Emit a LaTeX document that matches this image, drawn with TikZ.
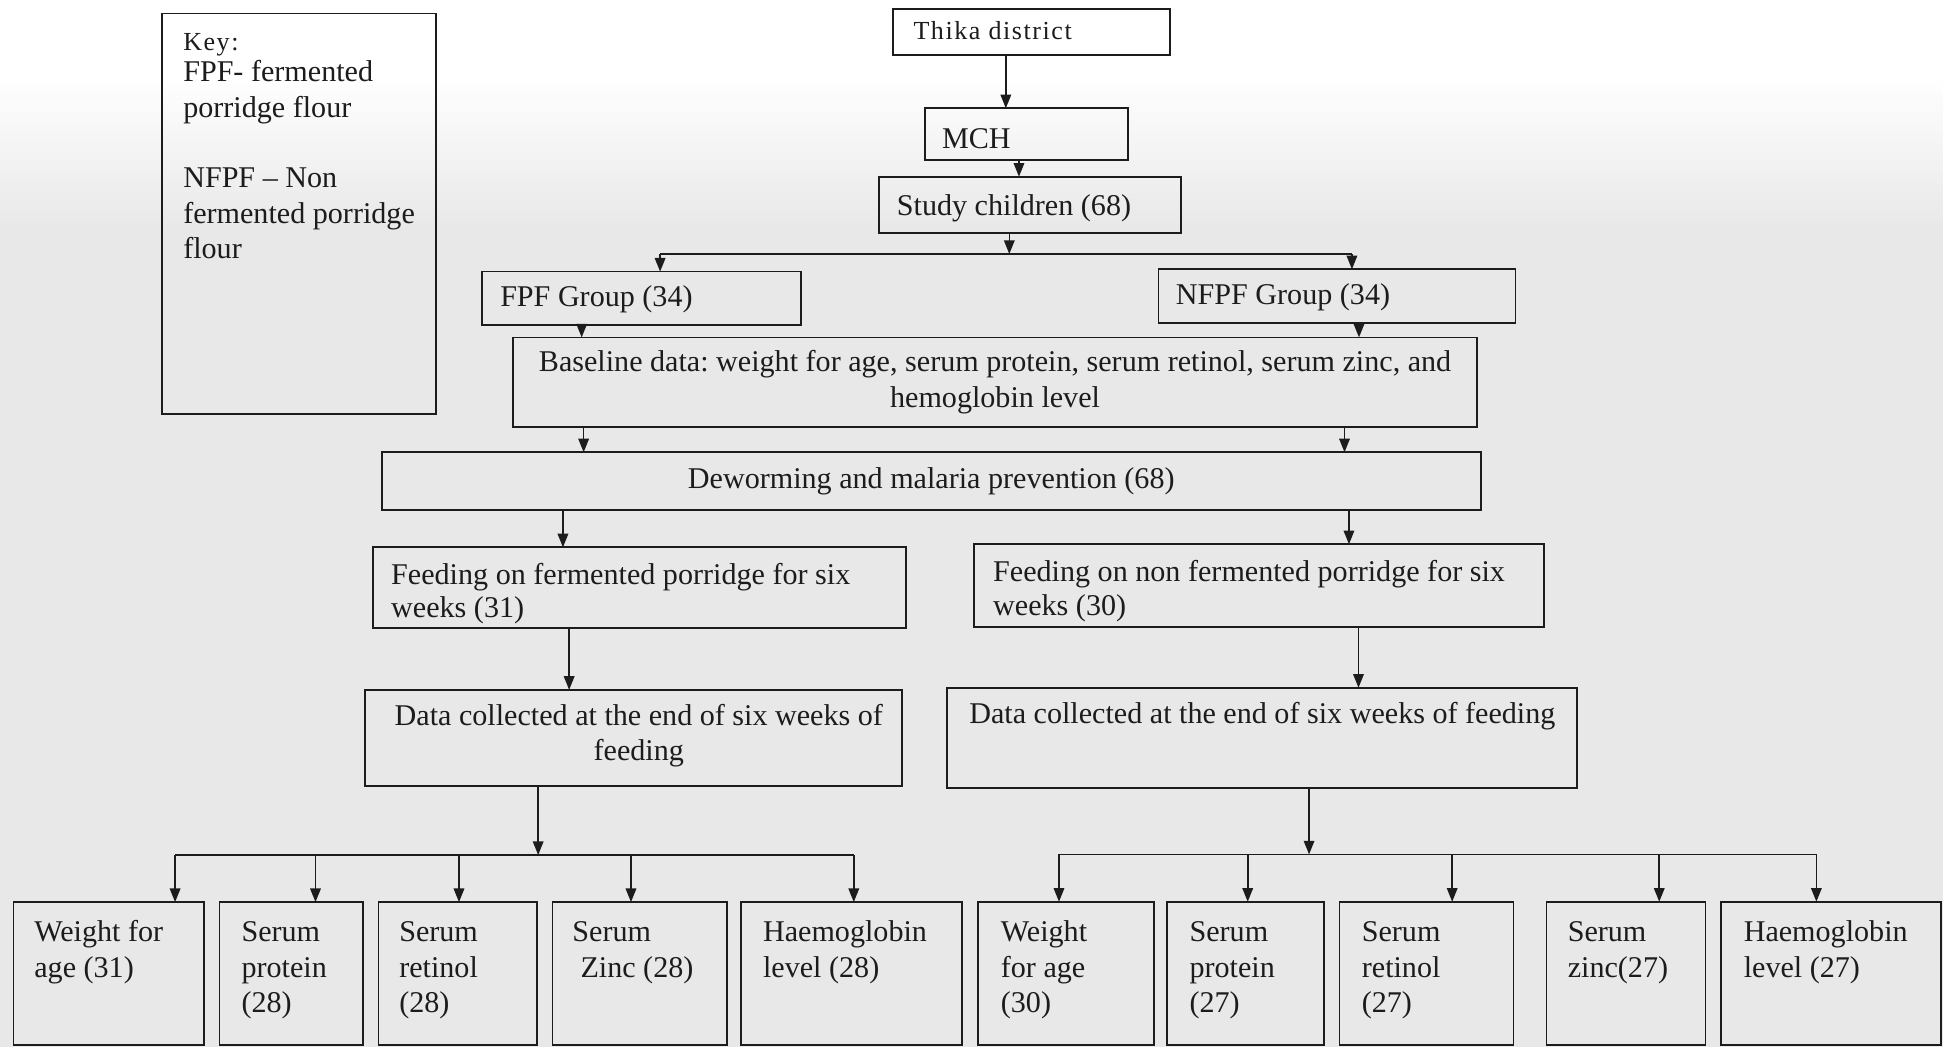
\documentclass[tikz,border=0pt]{standalone}
\usepackage{fontspec}
\setmainfont{Liberation Serif}
\usetikzlibrary{arrows.meta}
\frenchspacing

\definecolor{paper}{HTML}{E8E8E8}
\definecolor{ink}{HTML}{1C1C1C}

% body text of the flow chart and the slightly smaller, spaced-out captions
\newcommand{\flowfont}{\fontsize{24.3}{28.6}\selectfont}
\newcommand{\smallflow}{\fontsize{21}{25}\selectfont\addfontfeatures{LetterSpace=6}}
% multi-line text whose baseline is that of its first line
\newcommand{\leftlines}[1]{\parbox[t]{600pt}{\raggedright #1}}
\newcommand{\midlines}[1]{\parbox[t]{800pt}{\centering #1}}

\tikzset{
  box/.style={draw=ink, line width=1.4pt, rectangle, inner sep=0pt, outer sep=0pt, anchor=north west},
  txt/.style={inner sep=0pt, anchor=base west, font=\flowfont, text=ink},
  ctxt/.style={txt, anchor=base},
  link/.style={draw=ink, line width=1.3pt},
  arr/.style={link, -{Triangle[length=11pt,width=8.5pt]}},
}

\begin{document}
\begin{tikzpicture}[x=1pt,y=-1pt]
  % paper
  \fill[paper] (0,0) rectangle (1568,845);
  \fill[white] (0,0) rectangle (1568,60);
  \shade[top color=white, bottom color=paper] (0,60) rectangle (1568,185);
  \useasboundingbox (0,0) rectangle (1568,845);

  % ---- boxes ----
  \node[box, minimum width=221pt,   minimum height=323pt]  (key)    at (131,11)      {};
  \node[box, minimum width=223.5pt, minimum height=36.9pt] (thika)  at (720.5,7.5)   {};
  \node[box, minimum width=163.8pt, minimum height=41.7pt] (mch)    at (746.5,87.4)  {};
  \node[box, minimum width=243.6pt, minimum height=45.7pt] (study)  at (709.4,142.6) {};
  \node[box, minimum width=257.4pt, minimum height=43.1pt] (fpf)    at (389,219.2)   {};
  \node[box, minimum width=287.9pt, minimum height=43.1pt] (nfpf)   at (935,217.3)   {};
  \node[box, minimum width=777.8pt, minimum height=72.5pt] (base)   at (414.2,272.3) {};
  \node[box, minimum width=886.9pt, minimum height=46.5pt] (deworm) at (308,365)     {};
  \node[box, minimum width=430.4pt, minimum height=65.1pt] (feedF)  at (301,441.7)   {};
  \node[box, minimum width=460pt,   minimum height=66.7pt] (feedN)  at (786,439.2)   {};
  \node[box, minimum width=433.4pt, minimum height=77.8pt] (dataF)  at (294.5,556.7) {};
  \node[box, minimum width=508.6pt, minimum height=81.1pt] (dataN)  at (764,555)     {};

  % outcome boxes, fermented group
  \node[box, minimum width=153.8pt, minimum height=115.5pt] (b1)  at (11,728)     {};
  \node[box, minimum width=115.8pt, minimum height=115.5pt] (b2)  at (177.2,728)  {};
  \node[box, minimum width=127.8pt, minimum height=115.5pt] (b3)  at (305.5,728)  {};
  \node[box, minimum width=140.8pt, minimum height=115.5pt] (b4)  at (445.8,728)  {};
  \node[box, minimum width=178.5pt, minimum height=115.5pt] (b5)  at (598,728)    {};
  % outcome boxes, non fermented group
  \node[box, minimum width=142.2pt, minimum height=115.8pt] (b6)  at (789.1,727.7)  {};
  \node[box, minimum width=126.3pt, minimum height=115.8pt] (b7)  at (941.9,727.7)  {};
  \node[box, minimum width=140.5pt, minimum height=115.8pt] (b8)  at (1080.9,727.7) {};
  \node[box, minimum width=128.3pt, minimum height=115.8pt] (b9)  at (1248,727.7)   {};
  \node[box, minimum width=177.3pt, minimum height=115.8pt] (b10) at (1389.1,727.7) {};

  % ---- texts ----
  \node[txt, font=\smallflow] (tkey) at (147.7,41) {Key:};
  \node[txt] (tkeybody) at (147.7,65.9)
    {\leftlines{FPF- fermented\\porridge flour\\[28.6pt]NFPF – Non\\fermented porridge\\flour}};
  \node[txt, font=\smallflow] (tthika) at (737,31.7) {Thika district};
  \node[txt] (tmch)   at (760,119.7)   {MCH};
  \node[txt] (tstudy) at (723.6,174.3) {Study children (68)};
  \node[txt] (tfpf)   at (403.5,247.5) {FPF Group (34)};
  \node[txt] (tnfpf)  at (948.8,246.1) {NFPF Group (34)};
  \node[ctxt] (tbase) at (803,300)
    {\midlines{Baseline data: weight for age, serum protein, serum retinol, serum zinc, and\\hemoglobin level}};
  \node[ctxt] (tdeworm) at (751.5,394.6) {Deworming and malaria prevention (68)};
  \node[txt] (tfeedF) at (315.5,471.5)
    {\leftlines{Feeding on fermented porridge for six\\[-1.5pt]weeks (31)}};
  \node[txt] (tfeedN) at (801.3,469.4)
    {\leftlines{Feeding on non fermented porridge for six\\[-1.5pt]weeks (30)}};
  \node[ctxt] (tdataF) at (515.5,585.3)
    {\midlines{Data collected at the end of six weeks of\\feeding}};
  \node[txt] (tdataN) at (782,583.7) {Data collected at the end of six weeks of feeding};

  \node[txt] (tb1)  at (27.5,760)   {\leftlines{Weight for\\age (31)}};
  \node[txt] (tb2)  at (194.7,760)  {\leftlines{Serum\\protein\\(28)}};
  \node[txt] (tb3)  at (322,760)    {\leftlines{Serum\\retinol\\(28)}};
  \node[txt] (tb4)  at (461.8,760)  {\leftlines{Serum\\\hspace*{6.5pt}Zinc (28)}};
  \node[txt] (tb5)  at (615.6,760)  {\leftlines{Haemoglobin\\level (28)}};
  \node[txt] (tb6)  at (807.5,760)  {\leftlines{Weight\\for age\\(30)}};
  \node[txt] (tb7)  at (959.8,760)  {\leftlines{Serum\\protein\\(27)}};
  \node[txt] (tb8)  at (1098.8,760) {\leftlines{Serum\\retinol\\(27)}};
  \node[txt] (tb9)  at (1265,760)   {\leftlines{Serum\\zinc(27)}};
  \node[txt] (tb10) at (1407,760)   {\leftlines{Haemoglobin\\level (27)}};

  % ---- connectors ----
  \draw[arr] (thika.south -| 811.7,0) -- (mch.north -| 811.7,0);
  \draw[arr] (mch.south -| 822.3,0) -- (study.north -| 822.3,0);

  \coordinate (jS) at (814.5,205);
  \draw[arr]  (study.south -| jS) -- (jS);
  \draw[link] (jS -| 532.7,0) -- (jS -| 1091,0);
  \draw[arr]  (jS -| 532.7,0) -- (fpf.north -| 532.7,0);
  \draw[arr]  (jS -| 1091,0) -- (nfpf.north -| 1091,0);

  \draw[arr] (fpf.south -| 469.4,0)  -- (base.north -| 469.4,0);
  \draw[arr] (nfpf.south -| 1096.7,0) -- (base.north -| 1096.7,0);
  \draw[arr] (base.south -| 471,0)  -- (deworm.north -| 471,0);
  \draw[arr] (base.south -| 1085,0) -- (deworm.north -| 1085,0);
  \draw[arr] (deworm.south -| 454.3,0)  -- (feedF.north -| 454.3,0);
  \draw[arr] (deworm.south -| 1088.6,0) -- (feedN.north -| 1088.6,0);
  \draw[arr] (feedF.south -| 459.3,0)  -- (dataF.north -| 459.3,0);
  \draw[arr] (feedN.south -| 1096.3,0) -- (dataN.north -| 1096.3,0);

  \coordinate (jF) at (434.3,690);
  \draw[arr]  (dataF.south -| jF) -- (jF);
  \draw[link] (jF -| 141.3,0) -- (jF -| 689,0);
  \foreach \n/\x in {b1/141.3, b2/254.6, b3/370.4, b4/509.2, b5/689}
    \draw[arr] (jF -| \x,0) -- (\n.north -| \x,0);

  \coordinate (jN) at (1056.4,689.5);
  \draw[arr]  (dataN.south -| jN) -- (jN);
  \draw[link] (jN -| 854.6,0) -- (jN -| 1465.8,0);
  \foreach \n/\x in {b6/854.6, b7/1006.9, b8/1171.9, b9/1339, b10/1465.8}
    \draw[arr] (jN -| \x,0) -- (\n.north -| \x,0);
\end{tikzpicture}
\end{document}
